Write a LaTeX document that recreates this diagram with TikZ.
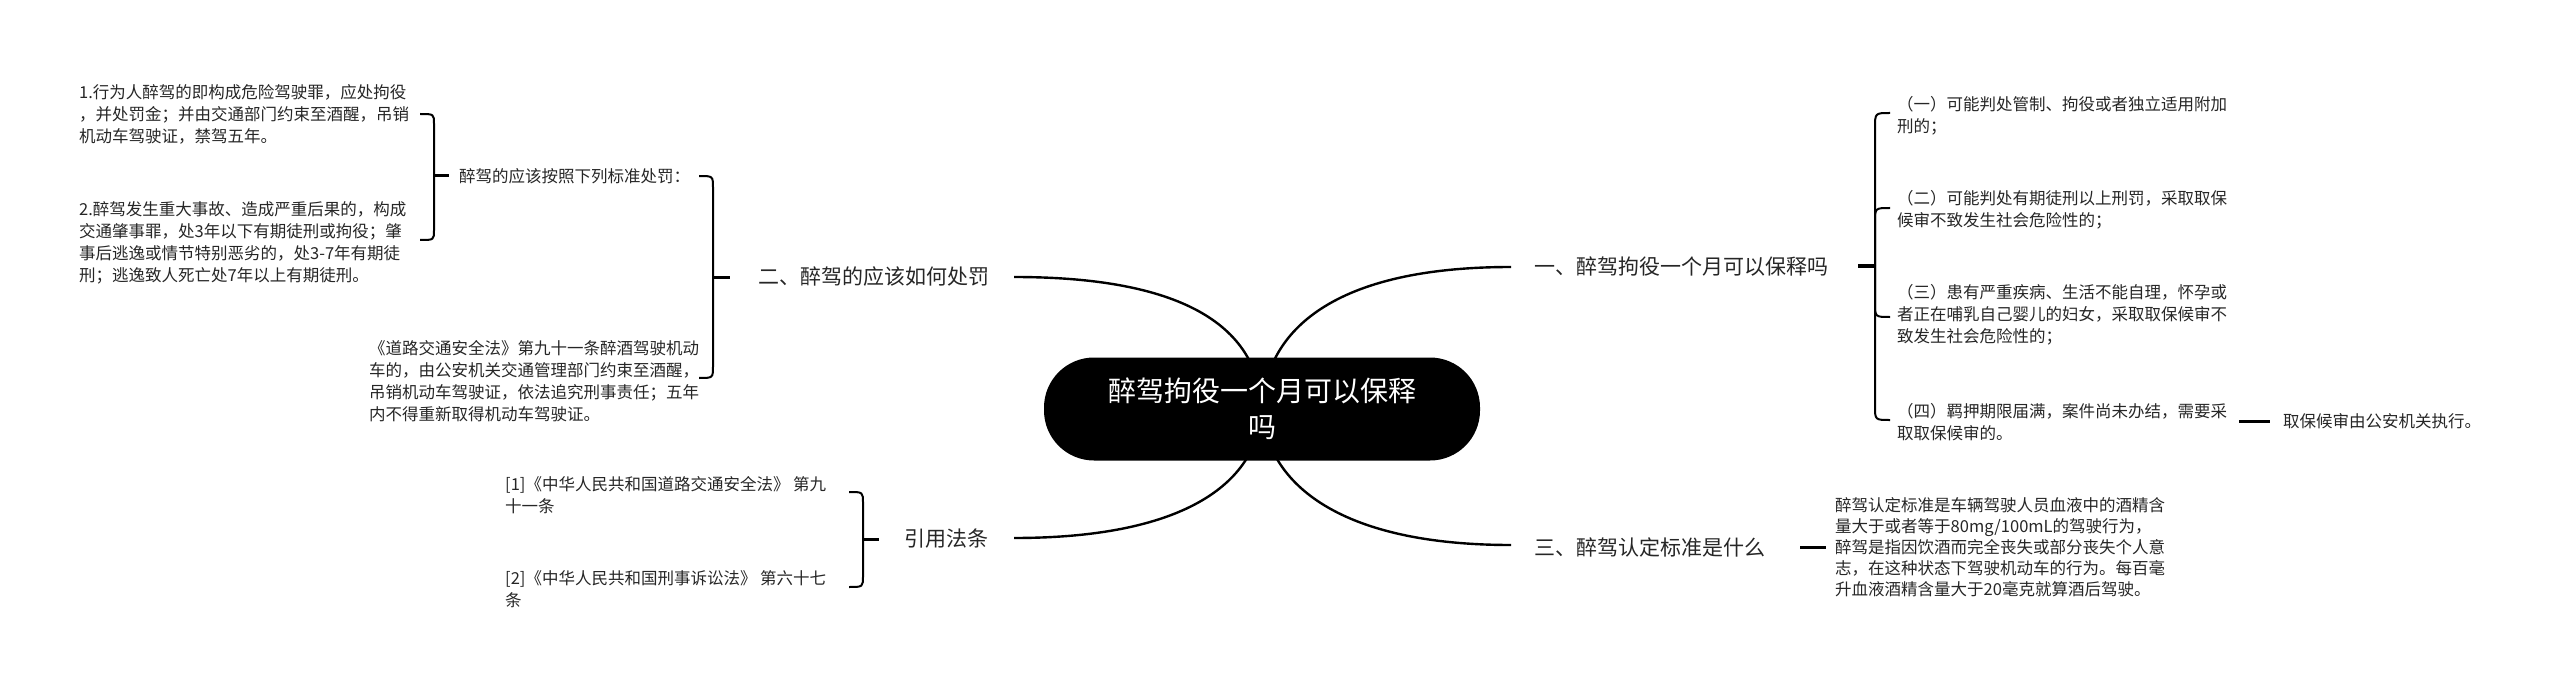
\documentclass[tikz,border=0pt]{standalone}
\usepackage{fontspec}
\setmainfont{Noto Sans CJK SC}
\begin{document}
\begin{tikzpicture}[x=1pt,y=-1pt,
  detail/.style={anchor=west,align=left,inner sep=0pt,font=\fontsize{16.5}{22}\selectfont,text=black!85},
  branch/.style={anchor=west,inner sep=0pt,font=\fontsize{21}{26}\selectfont,text=black!85},
  conn/.style={line width=2.4pt,black},
  brk/.style={line width=2pt,black},
  stub/.style={line width=3pt,black}]
\useasboundingbox (0,0) rectangle (2560,687);
% centre
\coordinate (c) at (1262,409);
% branches
\node[branch] (b2) at (758,277) {二、醉驾的应该如何处罚};
\node[branch] (bref) at (904,539) {引用法条};
\node[branch] (b1) at (1534,267) {一、醉驾拘役一个月可以保释吗};
\node[branch] (b3) at (1534,547) {三、醉驾认定标准是什么};
\coordinate (e2) at (1014,277);
\coordinate (eref) at (1014,538);
\coordinate (e1) at (1511,267);
\coordinate (e3) at (1511,545);
\draw[conn] (e2) .. controls (1190,277) and (1258,330) .. (c);
\draw[conn] (eref) .. controls (1190,538) and (1258,480) .. (c);
\draw[conn] (e1) .. controls (1334,267) and (1266,330) .. (c);
\draw[conn] (e3) .. controls (1334,545) and (1266,480) .. (c);
\node[fill=black,rounded corners=50pt,minimum width=436pt,minimum height=103pt,inner sep=0pt,
  text=white,align=center,font=\fontsize{28}{36}\selectfont] (center) at (c) {醉驾拘役一个月可以保释\\吗};
% left: 二
\node[detail,font=\fontsize{16.5}{22}\selectfont] (l2lab) at (459,176) {醉驾的应该按照下列标准处罚：};
\node[detail] (t1) at (79,114) {1.行为人醉驾的即构成危险驾驶罪，应处拘役\\，并处罚金；并由交通部门约束至酒醒，吊销\\机动车驾驶证，禁驾五年。};
\node[detail] (t2) at (79,243) {2.醉驾发生重大事故、造成严重后果的，构成\\交通肇事罪，处3年以下有期徒刑或拘役；肇\\事后逃逸或情节特别恶劣的，处3-7年有期徒\\刑；逃逸致人死亡处7年以上有期徒刑。};
\node[detail] (t3) at (369,381) {《道路交通安全法》第九十一条醉酒驾驶机动\\车的，由公安机关交通管理部门约束至酒醒，\\吊销机动车驾驶证，依法追究刑事责任；五年\\内不得重新取得机动车驾驶证。};
% bracket for l2lab
\coordinate (s1) at (434,176);
\draw[stub] (s1) -- (449,176);
\draw[brk] (s1) -- (434,124) .. controls (434,114) .. (420,114);
\draw[brk] (s1) -- (434,230) .. controls (434,240) .. (420,240);
% bracket for 二
\coordinate (s2) at (713,277);
\draw[stub] (s2) -- (730,277);
\draw[brk] (s2) -- (713,188) .. controls (713,176) .. (699,176);
\draw[brk] (s2) -- (713,366) .. controls (713,378) .. (699,378);
% refs
\node[detail] (r1) at (505,495) {[1]《中华人民共和国道路交通安全法》 第九\\十一条};
\node[detail] (r2) at (505,589) {[2]《中华人民共和国刑事诉讼法》 第六十七\\条};
\coordinate (s3) at (863,539);
\draw[stub] (s3) -- (879,539);
\draw[brk] (s3) -- (863,503) .. controls (863,492) .. (849,492);
\draw[brk] (s3) -- (863,576) .. controls (863,587) .. (849,587);
% right: 一
\node[detail] (i1) at (1897,116) {（一）可能判处管制、拘役或者独立适用附加\\刑的；};
\node[detail] (i2) at (1897,210) {（二）可能判处有期徒刑以上刑罚，采取取保\\候审不致发生社会危险性的；};
\node[detail] (i3) at (1897,315) {（三）患有严重疾病、生活不能自理，怀孕或\\者正在哺乳自己婴儿的妇女，采取取保候审不\\致发生社会危险性的；};
\node[detail] (i4) at (1897,422) {（四）羁押期限届满，案件尚未办结，需要采\\取取保候审的。};
\coordinate (s4) at (1875,266);
\draw[stub] (1858,266) -- (s4);
\draw[brk] (s4) -- (1875,128) .. controls (1875,113) .. (1890,113);
\draw[brk] (s4) -- (1875,222) .. controls (1875,208) .. (1890,208);
\draw[brk] (s4) -- (1875,303) .. controls (1875,317) .. (1890,317);
\draw[brk] (s4) -- (1875,406) .. controls (1875,420) .. (1890,420);
\node[detail] (i4b) at (2283,421) {取保候审由公安机关执行。};
\draw[stub] (2239,421) -- (2270,421);
% right: 三
\node[detail,font=\fontsize{16.5}{21}\selectfont] (d3) at (1835,547) {醉驾认定标准是车辆驾驶人员血液中的酒精含\\量大于或者等于80mg/100mL的驾驶行为，\\醉驾是指因饮酒而完全丧失或部分丧失个人意\\志，在这种状态下驾驶机动车的行为。每百毫\\升血液酒精含量大于20毫克就算酒后驾驶。};
\draw[stub] (1800,547) -- (1826,547);
\end{tikzpicture}
\end{document}
